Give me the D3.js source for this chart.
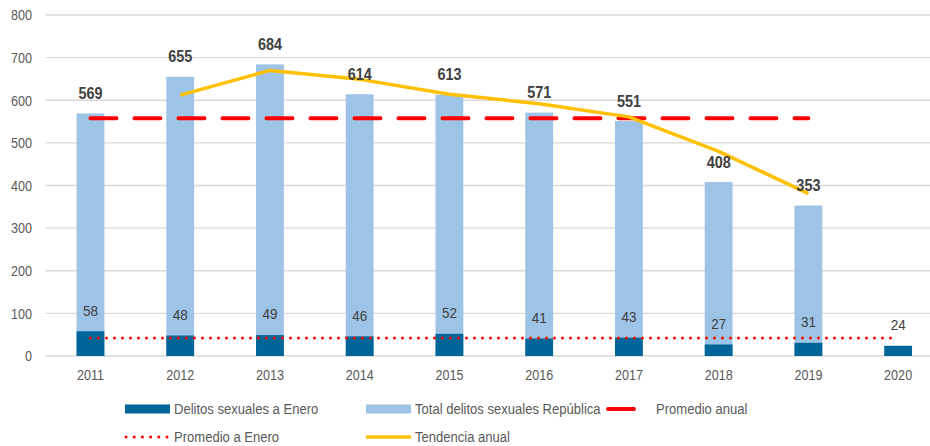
<!DOCTYPE html>
<html>
<head>
<meta charset="utf-8">
<script src="https://cdn.jsdelivr.net/npm/d3@7"></script>
<style>
    body { margin: 0; background: #fff; }
    svg { display: block; font-family: "Liberation Sans", Arial, sans-serif; }
</style>
</head>
<body>
<svg id="chart" width="930" height="446"></svg>
<script>
const years = ['2011', '2012', '2013', '2014', '2015', '2016', '2017', '2018', '2019', '2020'];
const totalRepublica = [569, 655, 684, 614, 613, 571, 551, 408, 353, null];
const delitosEnero = [58, 48, 49, 46, 52, 41, 43, 27, 31, 24];
const tendenciaAnual = [null, 612, 670, 649, 614, 592, 561, 480, 381, null];
const promedioAnual = 558;
const promedioEnero = 42;
const yTicks = [0, 100, 200, 300, 400, 500, 600, 700, 800];

const COLORS = {
    dark: '#006699',
    light: '#9DC3E6',
    red: '#FF0000',
    yellow: '#FFC000',
    grid: '#D9D9D9',
    axis: '#595959',
    label: '#404040',
};

// the original uses a narrow face; squeeze Liberation Sans to match it
const NARROW = 0.84;

const margin = { top: 15, right: -13, bottom: 90, left: 45.6 };
const svg = d3.select('#chart');
const width = +svg.attr('width');
const height = +svg.attr('height');

const x = d3.scaleBand()
    .domain(years)
    .range([margin.left, width - margin.right])
    .paddingInner(0.69)
    .paddingOuter(0.345);
const y = d3.scaleLinear().domain([0, 800]).range([height - margin.bottom, margin.top]);
const cx = d => x(d) + x.bandwidth() / 2;

function narrowText(sel, px, py, scale = NARROW) {
    return sel
        .attr('x', 0)
        .attr('y', 0)
        .attr('dy', '0.35em')
        .attr('transform', (d, i) => `translate(${px(d, i)},${py(d, i)}) scale(${scale},1)`);
}

// gridlines
svg.append('g')
    .selectAll('line')
    .data(yTicks)
    .join('line')
    .attr('x1', margin.left)
    .attr('x2', width)
    .attr('y1', d => y(d))
    .attr('y2', d => y(d))
    .attr('stroke', COLORS.grid)
    .attr('stroke-width', 1.3);

svg.append('g')
    .selectAll('text')
    .data(yTicks)
    .join('text')
    .attr('fill', COLORS.axis)
    .attr('font-size', 15)
    .attr('text-anchor', 'end')
    .call(narrowText, () => 32, d => y(d))
    .text(d => d);

svg.append('g')
    .selectAll('text')
    .data(years)
    .join('text')
    .attr('fill', COLORS.axis)
    .attr('font-size', 15)
    .attr('text-anchor', 'middle')
    .call(narrowText, d => cx(d), () => y(0) + 19)
    .text(d => d);

const totals = years.map((yr, i) => ({ yr, v: totalRepublica[i] })).filter(d => d.v != null);
const enero = years.map((yr, i) => ({ yr, v: delitosEnero[i] }));

// bars
svg.append('g')
    .selectAll('rect')
    .data(totals)
    .join('rect')
    .attr('x', d => x(d.yr))
    .attr('width', x.bandwidth())
    .attr('y', d => y(d.v))
    .attr('height', d => y(0) - y(d.v))
    .attr('fill', COLORS.light);

svg.append('g')
    .selectAll('rect')
    .data(enero)
    .join('rect')
    .attr('x', d => x(d.yr))
    .attr('width', x.bandwidth())
    .attr('y', d => y(d.v))
    .attr('height', d => y(0) - y(d.v))
    .attr('fill', COLORS.dark);

// averages
svg.append('line')
    .attr('x1', cx('2011'))
    .attr('x2', cx('2019'))
    .attr('y1', y(promedioAnual))
    .attr('y2', y(promedioAnual))
    .attr('stroke', COLORS.red)
    .attr('stroke-width', 4)
    .attr('stroke-linecap', 'round')
    .attr('stroke-dasharray', '26 18');

svg.append('line')
    .attr('x1', cx('2011'))
    .attr('x2', cx('2020'))
    .attr('y1', y(promedioEnero))
    .attr('y2', y(promedioEnero))
    .attr('stroke', COLORS.red)
    .attr('stroke-width', 3)
    .attr('stroke-linecap', 'round')
    .attr('stroke-dasharray', '0 8');

// trend
const trend = years.map((yr, i) => ({ yr, v: tendenciaAnual[i] })).filter(d => d.v != null);
svg.append('path')
    .datum(trend)
    .attr('fill', 'none')
    .attr('stroke', COLORS.yellow)
    .attr('stroke-width', 3.5)
    .attr('stroke-linejoin', 'round')
    .attr('d', d3.line().x(d => cx(d.yr)).y(d => y(d.v)));

// labels
svg.append('g')
    .selectAll('text')
    .data(totals)
    .join('text')
    .attr('text-anchor', 'middle')
    .attr('fill', COLORS.label)
    .attr('font-size', 16)
    .attr('font-weight', 'bold')
    .call(narrowText, d => cx(d.yr), d => y(d.v) - 20, 0.9)
    .text(d => d.v);

svg.append('g')
    .selectAll('text')
    .data(enero)
    .join('text')
    .attr('text-anchor', 'middle')
    .attr('fill', COLORS.label)
    .attr('font-size', 15)
    .call(narrowText, d => cx(d.yr), d => y(d.v) - 21, 0.9)
    .text(d => d.v);

// legend
const legend = svg.append('g');
const row1 = 409;
const row2 = 437;
const legendLabel = (lx, ly, txt) => legend.append('text')
    .attr('fill', COLORS.axis)
    .attr('font-size', 15)
    .call(narrowText, () => lx, () => ly, 0.87)
    .text(txt);

legend.append('rect').attr('x', 125).attr('y', row1 - 4.5).attr('width', 45).attr('height', 9).attr('fill', COLORS.dark);
legendLabel(174, row1, 'Delitos sexuales a Enero');

legend.append('rect').attr('x', 366).attr('y', row1 - 4.5).attr('width', 45).attr('height', 9).attr('fill', COLORS.light);
legendLabel(415, row1, 'Total delitos sexuales República');

legend.append('line').attr('x1', 608).attr('x2', 651).attr('y1', row1).attr('y2', row1)
    .attr('stroke', COLORS.red).attr('stroke-width', 4).attr('stroke-linecap', 'round').attr('stroke-dasharray', '26 18');
legendLabel(656, row1, 'Promedio anual');

legend.append('line').attr('x1', 126).attr('x2', 167).attr('y1', row2).attr('y2', row2)
    .attr('stroke', COLORS.red).attr('stroke-width', 3).attr('stroke-linecap', 'round').attr('stroke-dasharray', '0 8.2');
legendLabel(174, row2, 'Promedio a Enero');

legend.append('line').attr('x1', 366).attr('x2', 411).attr('y1', row2).attr('y2', row2)
    .attr('stroke', COLORS.yellow).attr('stroke-width', 3.5);
legendLabel(415, row2, 'Tendencia anual');
</script>
</body>
</html>
